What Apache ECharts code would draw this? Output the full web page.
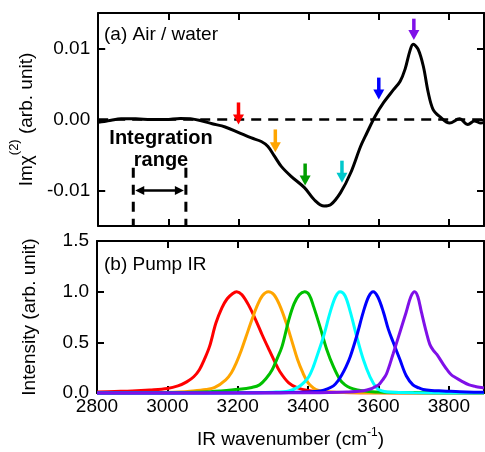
<!DOCTYPE html>
<html>
<head>
<meta charset="utf-8">
<script src="https://cdn.jsdelivr.net/npm/echarts@6/dist/echarts.min.js"></script>
<style>
  html, body { margin: 0; padding: 0; background: #fff; }
  #chart { width: 485px; height: 452px; }
</style>
</head>
<body>
<div id="chart"></div>
<script>
// ---- axis ticks ----
const wavenumberTicks = [2800, 3000, 3200, 3400, 3600, 3800];
const chiTicks = [-0.01, 0, 0.01];
const intensityTicks = [0, 0.5, 1.0, 1.5];

// ---- (a) Im chi(2) spectrum of the air/water interface: [wavenumber, value] ----
const imChi2 = [
  [2800, -0.0004], [2817, -0.0003], [2837, -0.0001], [2865, 0.0001], [2907, 0.0001],
  [2950, 0.0], [2992, 0.0], [3034, 0.00015], [3063, 0.0001], [3091, -0.00015],
  [3125, -0.0006], [3162, -0.00105], [3199, -0.0018], [3237, -0.0026], [3265, -0.0031],
  [3284, -0.0038], [3303, -0.0052], [3322, -0.0066], [3350, -0.008], [3388, -0.0096],
  [3416, -0.0113], [3444, -0.0122], [3463, -0.012], [3491, -0.0103], [3520, -0.0075],
  [3548, -0.0038], [3566, -0.0019], [3590, 0.0005], [3614, 0.0024], [3642, 0.0042],
  [3661, 0.0054], [3675, 0.0071], [3689, 0.0097], [3698, 0.0106], [3712, 0.0099],
  [3727, 0.0075], [3741, 0.0038], [3755, 0.0014], [3774, 0.0004], [3802, -0.0005],
  [3830, 0.0001], [3854, -0.0007], [3873, -0.0002], [3891, -0.0005], [3900, -0.0004]
];

// pump positions marked by arrows: wavenumber, arrow tail, arrow tip
const pumpArrowX = [3200, 3305, 3390, 3495, 3600, 3700];
const pumpArrowTail = [0.0024, -0.0014, -0.0062, -0.0058, 0.0059, 0.0142];
const pumpArrowTip = [-0.0007, -0.0046, -0.0093, -0.0089, 0.0028, 0.0112];
const pumpArrowColors = ['#ff0000', '#ffa500', '#009e00', '#00c8cc', '#0000ff', '#7f10e8'];

// integration range
const integrationStart = 2900;
const integrationEnd = 3050;
const integrationTop = -0.0068;
const integrationArrowY = -0.01;

// ---- (b) pump IR spectra: [wavenumber, intensity] ----
const pumpRed = [
  [2800, 0.01], [2850, 0.015], [2900, 0.02], [2950, 0.03], [3000, 0.045], [3030, 0.07],
  [3055, 0.11], [3075, 0.16], [3091, 0.23], [3105, 0.33], [3120, 0.46], [3138, 0.69],
  [3155, 0.84], [3170, 0.93], [3185, 0.98], [3197, 1.0], [3212, 0.97], [3232, 0.86],
  [3250, 0.73], [3270, 0.57], [3290, 0.42], [3305, 0.31], [3320, 0.21], [3345, 0.10],
  [3370, 0.05], [3400, 0.025], [3450, 0.01], [3500, 0.005], [3600, 0.002], [3900, 0.0]
];
const pumpOrange = [
  [2800, 0.002], [2950, 0.005], [3030, 0.01], [3072, 0.02], [3110, 0.035], [3135, 0.055],
  [3166, 0.13], [3182, 0.2], [3195, 0.29], [3210, 0.42], [3223, 0.55], [3240, 0.72],
  [3255, 0.86], [3270, 0.96], [3287, 1.0], [3303, 0.97], [3320, 0.86], [3337, 0.7],
  [3355, 0.5], [3370, 0.33], [3385, 0.2], [3400, 0.1], [3415, 0.05], [3430, 0.025],
  [3460, 0.01], [3550, 0.003], [3900, 0.0]
];
const pumpGreen = [
  [2800, 0.0], [3000, 0.003], [3100, 0.01], [3150, 0.02], [3204, 0.036], [3240, 0.055],
  [3262, 0.08], [3280, 0.14], [3298, 0.23], [3312, 0.34], [3326, 0.46], [3345, 0.72],
  [3360, 0.88], [3375, 0.97], [3390, 1.0], [3403, 0.97], [3416, 0.85], [3435, 0.64],
  [3453, 0.43], [3472, 0.26], [3491, 0.13], [3505, 0.08], [3520, 0.05], [3540, 0.03],
  [3560, 0.02], [3600, 0.01], [3700, 0.005], [3900, 0.002]
];
const pumpCyan = [
  [2800, 0.0], [3200, 0.002], [3300, 0.008], [3345, 0.02], [3373, 0.06], [3390, 0.11],
  [3402, 0.16], [3415, 0.26], [3425, 0.36], [3444, 0.56], [3463, 0.8], [3478, 0.95],
  [3491, 1.0], [3505, 0.96], [3520, 0.8], [3538, 0.56], [3557, 0.33], [3576, 0.16],
  [3595, 0.05], [3610, 0.02], [3625, 0.01], [3700, 0.003], [3900, 0.0]
];
const pumpBlue = [
  [2800, 0.0], [3300, 0.002], [3400, 0.01], [3435, 0.02], [3455, 0.04], [3472, 0.07],
  [3485, 0.12], [3496, 0.18], [3508, 0.26], [3520, 0.36], [3538, 0.56], [3557, 0.8],
  [3572, 0.95], [3585, 1.0], [3598, 0.95], [3614, 0.8], [3628, 0.63], [3642, 0.5],
  [3661, 0.33], [3679, 0.17], [3698, 0.08], [3715, 0.05], [3727, 0.035], [3750, 0.025],
  [3783, 0.02], [3850, 0.01], [3900, 0.008]
];
const pumpPurple = [
  [2800, 0.0], [3400, 0.002], [3510, 0.01], [3567, 0.03], [3600, 0.08], [3612, 0.13],
  [3623, 0.19], [3642, 0.39], [3661, 0.6], [3679, 0.8], [3692, 0.95], [3703, 1.0],
  [3712, 0.95], [3722, 0.8], [3736, 0.6], [3746, 0.48], [3756, 0.42], [3766, 0.38],
  [3783, 0.29], [3795, 0.23], [3807, 0.18], [3820, 0.15], [3835, 0.12], [3858, 0.08],
  [3875, 0.065], [3887, 0.056], [3900, 0.05]
];
const pumpSpectra = [pumpRed, pumpOrange, pumpGreen, pumpCyan, pumpBlue, pumpPurple];
const pumpColors = ['#ff0000', '#ffa500', '#00c000', '#00ffff', '#0000ff', '#7f10e8'];

const FONT = 'Liberation Sans, Arial, Helvetica, sans-serif';

const chart = echarts.init(document.getElementById('chart'), null, { renderer: 'canvas' });

function frameX(gridIndex, position, withLabels) {
  return {
    type: 'value', gridIndex: gridIndex, position: position,
    min: 2800, max: 3900,
    axisLine: { show: true, onZero: false, lineStyle: { color: '#000', width: 2 } },
    axisTick: { show: true, inside: true, length: 7, customValues: wavenumberTicks,
                lineStyle: { color: '#000', width: 2 } },
    axisLabel: { show: withLabels, customValues: wavenumberTicks, margin: 4,
                 formatter: v => String(v),
                 color: '#000', fontSize: 19, fontFamily: FONT },
    splitLine: { show: false }
  };
}
function frameY(gridIndex, position, min, max, ticks, fmt, withLabels) {
  return {
    type: 'value', gridIndex: gridIndex, position: position,
    min: min, max: max,
    axisLine: { show: true, onZero: false, lineStyle: { color: '#000', width: 2 } },
    axisTick: { show: true, inside: true, length: 7, customValues: ticks,
                lineStyle: { color: '#000', width: 2 } },
    axisLabel: { show: withLabels, customValues: ticks, margin: 8, formatter: fmt,
                 color: '#000', fontSize: 19, fontFamily: FONT },
    splitLine: { show: false }
  };
}

const xAxes = [
  frameX(0, 'bottom', false),
  frameX(0, 'top', false),
  Object.assign(frameX(1, 'bottom', true), {
    name: '{t|IR wavenumber (cm}{s|-1}{t|)}',
    nameLocation: 'middle', nameGap: 34,
    nameTextStyle: {
      fontFamily: FONT, color: '#000',
      rich: {
        t: { fontSize: 19, fontFamily: FONT, color: '#000' },
        s: { fontSize: 12, fontFamily: FONT, color: '#000', padding: [0, 0, 14, 0] }
      }
    }
  }),
  frameX(1, 'top', false)
];

const yAxes = [
  Object.assign(frameY(0, 'left', -0.015, 0.015, chiTicks, v => v.toFixed(2), true), {
    name: '{t|Imχ}{s|(2)}{t| (arb. unit)}',
    nameLocation: 'middle', nameGap: 50,
    nameTextStyle: {
      fontFamily: FONT, color: '#000',
      rich: {
        t: { fontSize: 19, fontFamily: FONT, color: '#000' },
        s: { fontSize: 13, fontFamily: FONT, color: '#000', padding: [0, 0, 24, 0] }
      }
    }
  }),
  frameY(0, 'right', -0.015, 0.015, chiTicks, null, false),
  Object.assign(frameY(1, 'left', 0, 1.5, intensityTicks, v => v.toFixed(1), true), {
    name: 'Intensity (arb. unit)',
    nameLocation: 'middle', nameGap: 58,
    nameTextStyle: { fontFamily: FONT, color: '#000', fontSize: 19 }
  }),
  frameY(1, 'right', 0, 1.5, intensityTicks, null, false)
];

// downward arrows marking the pump frequencies
function renderPumpArrow(params, api) {
  const tail = api.coord([api.value(0), api.value(1)]);
  const tip = api.coord([api.value(0), api.value(2)]);
  const color = pumpArrowColors[params.dataIndex];
  const headLen = 10, headHalf = 5.5, shaft = 3.5;
  return {
    type: 'group',
    children: [
      { type: 'rect',
        shape: { x: tip[0] - shaft / 2, y: tail[1], width: shaft, height: tip[1] - tail[1] - headLen + 1 },
        style: { fill: color } },
      { type: 'polygon',
        shape: { points: [[tip[0] - headHalf, tip[1] - headLen], [tip[0] + headHalf, tip[1] - headLen], [tip[0], tip[1]]] },
        style: { fill: color } }
    ]
  };
}

// dashed bounds and double-headed arrow of the integration range
function renderIntegration(params, api) {
  const a = api.coord([api.value(0), api.value(2)]);
  const b = api.coord([api.value(1), api.value(2)]);
  const bottomY = api.coord([api.value(0), -0.015])[1];
  const arrowY = api.coord([api.value(0), api.value(3)])[1];
  const dash = { stroke: '#000', lineWidth: 3, lineDash: [10, 7], fill: null };
  const x0 = a[0] + 2, x1 = b[0] - 2, h = 9, w = 4.5;
  return {
    type: 'group',
    children: [
      { type: 'line', shape: { x1: a[0], y1: a[1], x2: a[0], y2: bottomY }, style: dash },
      { type: 'line', shape: { x1: b[0], y1: b[1], x2: b[0], y2: bottomY }, style: dash },
      { type: 'line', shape: { x1: x0 + h - 1, y1: arrowY, x2: x1 - h + 1, y2: arrowY },
        style: { stroke: '#000', lineWidth: 2.5 } },
      { type: 'polygon', shape: { points: [[x0, arrowY], [x0 + h, arrowY - w], [x0 + h, arrowY + w]] },
        style: { fill: '#000' } },
      { type: 'polygon', shape: { points: [[x1, arrowY], [x1 - h, arrowY - w], [x1 - h, arrowY + w]] },
        style: { fill: '#000' } }
    ]
  };
}

const series = [
  {
    type: 'line', xAxisIndex: 0, yAxisIndex: 0, data: imChi2,
    showSymbol: false, smooth: 0.35, clip: true,
    lineStyle: { color: '#000', width: 3 },
    z: 4,
    markLine: {
      silent: true, symbol: ['none', 'none'], label: { show: false },
      lineStyle: { color: '#000', width: 2.5, type: [10, 7] },
      data: [{ yAxis: 0 }], animation: false
    }
  },
  {
    type: 'custom', xAxisIndex: 0, yAxisIndex: 0, z: 5,
    data: pumpArrowX.map((x, i) => [x, pumpArrowTail[i], pumpArrowTip[i]]),
    renderItem: renderPumpArrow
  },
  {
    type: 'custom', xAxisIndex: 0, yAxisIndex: 0, z: 5,
    data: [[integrationStart, integrationEnd, integrationTop, integrationArrowY]],
    renderItem: renderIntegration
  }
];
pumpSpectra.forEach((d, i) => {
  series.push({
    type: 'line', xAxisIndex: 2, yAxisIndex: 2, data: d,
    showSymbol: false, smooth: 0.35, clip: false,
    lineStyle: { color: pumpColors[i], width: 3 },
    z: 3 + i
  });
});

chart.setOption({
  animation: false,
  backgroundColor: '#fff',
  textStyle: { fontFamily: FONT },
  grid: [
    { left: 97, top: 13, width: 387, height: 213 },
    { left: 97, top: 241, width: 387, height: 152 }
  ],
  xAxis: xAxes,
  yAxis: yAxes,
  series: series,
  graphic: [
    { type: 'text', style: { x: 104, y: 35, text: '(a) Air / water', verticalAlign: 'middle',
      font: '19px ' + FONT, fill: '#000' } },
    { type: 'text', style: { x: 104, y: 265, text: '(b) Pump IR', verticalAlign: 'middle',
      font: '19px ' + FONT, fill: '#000' } },
    { type: 'text', style: { x: 161, y: 138, text: 'Integration', align: 'center', verticalAlign: 'middle',
      font: 'bold 20px ' + FONT, fill: '#000' } },
    { type: 'text', style: { x: 161, y: 160, text: 'range', align: 'center', verticalAlign: 'middle',
      font: 'bold 20px ' + FONT, fill: '#000' } }
  ]
});
</script>
</body>
</html>
